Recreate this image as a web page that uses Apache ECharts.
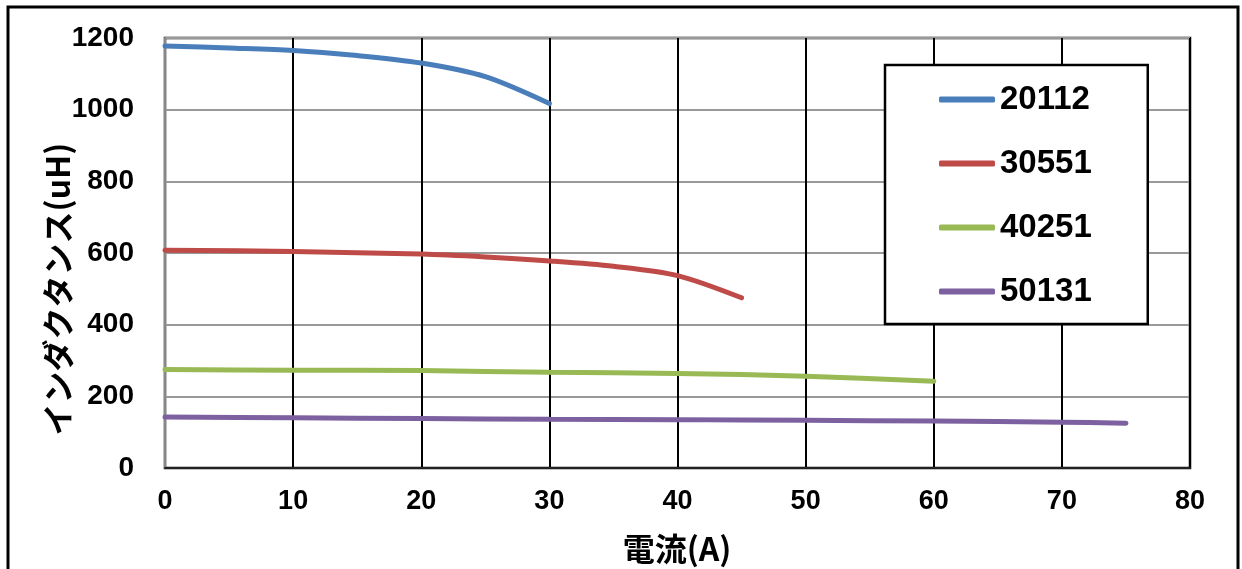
<!DOCTYPE html>
<html><head><meta charset="utf-8">
<script src="https://cdn.jsdelivr.net/npm/echarts@6/dist/echarts.min.js"></script>
<style>html,body{margin:0;padding:0;background:#fff}#c{width:1242px;height:569px}</style>
</head><body><div id="c"></div>
<script>
const xTicks = [0,10,20,30,40,50,60,70,80];
const yTicks = [0,200,400,600,800,1000,1200];
const seriesNames = ['20112','30551','40251','50131'];
const s20112 = [[0,1178],[5,1172],[10,1165],[15,1151],[20,1130],[25,1092],[30,1017]];
const s30551 = [[0,608],[10,604],[20,597],[25,589],[30,578],[35,563],[40,537],[45,475]];
const s40251 = [[0,275],[10,273],[20,272],[30,267],[40,264],[50,256],[60,242]];
const s50131 = [[0,142],[10,140],[20,138],[30,136],[40,135],[50,133],[60,131],[70,128],[75,125]];
const colors = ['#4a7ebb','#be4b48','#98b954','#7d60a0'];
const seriesData = [s20112,s30551,s40251,s50131];
const numFont = '"Liberation Sans",Arial,sans-serif';
const cjkFont = '"Noto Sans CJK JP","Noto Sans",sans-serif';

const chart = echarts.init(document.getElementById('c'));
chart.setOption({
  animation:false,
  backgroundColor:'#fff',
  grid:{left:165,right:52,top:38,bottom:101,show:true,borderColor:'#000',borderWidth:2.5,backgroundColor:'transparent'},
  xAxis:{type:'value',min:xTicks[0],max:xTicks[xTicks.length-1],interval:10,
    axisLine:{show:true,lineStyle:{color:'#222',width:2}},
    axisTick:{show:false},
    splitLine:{show:true,lineStyle:{color:'#000',width:2}},
    axisLabel:{color:'#000',fontFamily:numFont,fontWeight:'bold',fontSize:27,margin:20}},
  yAxis:{type:'value',min:yTicks[0],max:yTicks[yTicks.length-1],interval:200,
    axisLine:{show:true,lineStyle:{color:'#888',width:2}},
    axisTick:{show:false},
    splitLine:{show:true,lineStyle:{color:'#999',width:2}},
    axisLabel:{color:'#000',fontFamily:numFont,fontWeight:'bold',fontSize:28,margin:31,formatter:v=>String(v)}},
  legend:{orient:'vertical',left:885,top:65,padding:[18,56,16,54],
    backgroundColor:'#fff',borderColor:'#000',borderWidth:2.5,
    itemGap:31,itemWidth:56,itemHeight:6,itemTextGap:4,icon:'roundRect',
    textStyle:{color:'#000',fontFamily:numFont,fontWeight:'bold',fontSize:33,lineHeight:33},
    data:seriesNames},
  graphic:[
    {type:'rect',shape:{x:8,y:7,width:1230,height:600},style:{fill:'none',stroke:'#000',lineWidth:3},z:-1},
    {type:'text',x:58,y:289,rotation:Math.PI/2,style:{text:'インダクタンス(uH)',font:'bold 32px '+cjkFont,fill:'#000',textAlign:'center',textVerticalAlign:'middle'}},
    {type:'text',x:677,y:549,style:{text:'電流(A)',font:'bold 32px '+cjkFont,fill:'#000',textAlign:'center',textVerticalAlign:'middle'}}
  ],
  series:seriesNames.map((n,i)=>({name:n,type:'line',data:seriesData[i],smooth:0.3,showSymbol:false,
    lineStyle:{color:colors[i],width:5,cap:'round'},itemStyle:{color:colors[i]},z:3}))
});
</script></body></html>
